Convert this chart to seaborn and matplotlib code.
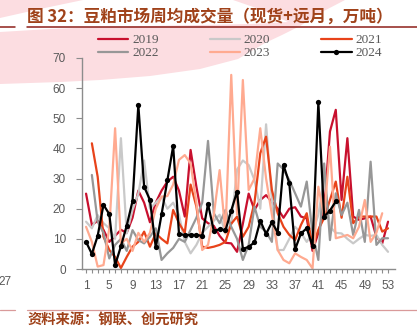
import numpy as np
import pandas as pd
import matplotlib
matplotlib.use("Agg")
import matplotlib.pyplot as plt
from matplotlib.patches import Polygon
from matplotlib.lines import Line2D
import seaborn as sns

# Weekly average traded volume of soybean meal (spot + forward), 10k tonnes
weeks = list(range(1, 54))
nan = np.nan

vol_2019 = [25, 14.6, 16, 13, 9, 11, 13, 12, 17, 26, 22, 15.5, 22, 26, 29, 30.6, 26, 17.4,
            39.5, 27.3, 16.8, 15.2, 14.3, 11, 8.7, 8.5, 5.7, 15, 25, 19.6, 22.9, 24.5, 22.3,
            20, 17, 20, 20.5, 17.4, 16.8, 6, 12, 20, 45.6, 52.8, 22.9, 43.4, 17.4, 16.3, 16.8,
            17.4, 10.7, 8.5, 15.7]
vol_2020 = [15.7, 13.5, 17.9, 15.2, 13.5, 10, 43.4, 11.8, 19.6, 25, 36, 20, 22, 24, 20, 22,
            18, 9, 5.2, 8, 12, 14, 16, 18, 12, 15, 33, 36, 34.5, 29.5, 20, 48, 22.9, 6.3, 6.3,
            10, 14, 12, 9, 12, 18, 30, 14, 12, 11.8, 10, 8.5, 10, 11.3, 11, 11.3, 8, 5.7]
vol_2021 = [nan, 41.7, 30.6, 10.7, 6.3, 4, 0.3, 4, 7.4, 9, 12.4, 7.4, 11.8, 10, 8.5, 19.6,
            15.2, 12, 28, 20.7, 7.4, 7, 7.4, 8, 9, 15, 17.4, 10.7, 14, 22, 38.4, 43.9, 26.2,
            18.5, 14, 11.3, 9.6, 14.6, 18.5, 7.4, 13, 17, 22.9, 29, 17, 30.6, 15.2, 17.4, 17.4,
            17.4, 17.4, 12.4, 13.5]
vol_2022 = [nan, 31.2, 15.7, 12, 3.5, 8, 10, 6, 12.9, 9.6, 8.5, 10.7, 13.5, 3, 5.2, 7, 10, 9,
            13, 17, 22, 42.5, 18.5, 15.2, 19.6, 14, 10, 3, 8, 20.7, 14, 12.4, 9, 35, 33, 29.5,
            25.1, 20.7, 29, 11.8, 3, 35, 9.6, 25.1, 17.9, 22, 11.3, 19.6, 9, 35.6, 8, 10.2, 10.2]
vol_2023 = [14, 9, 0.8, 1.3, 13.5, 46.7, 8.5, 10, 6, 12, 9, 12, 20, 24, 24.2, 28, 36.2, 37.8,
            35, 22, 6.3, 8, 18, 32.8, 11.8, 64.4, 18, 62.7, 26.2, 30, 46.7, 30, 18, 6.3, 3, 1.9,
            5.2, 4, 3, 0.2, 27.3, 17.4, 40.6, 10.2, 10.7, 11.3, 10.2, 14, 22.9, 9, 12, 18.5, nan]
vol_2024 = [9, 5, 11, 21.3, 18.2, 1.3, 7.5, 14.4, 22.5, 54.4, 27.3, 22.9, 7.2, 18.1, 29.4,
            40.8, 11.7, 11.2, 11.3, 11.3, 11, 21.6, 12.6, 13.2, 12.8, 19.4, 25.7, 6.6, 7.4,
            8.8, 16, 11.6, 15.5, 12.1, 34.5, 28.4, 6.5, 11.8, 13.5, 7.6, 55.3, 17.4, 19.4, 22.4]
vol_2024 = vol_2024 + [nan] * (len(weeks) - len(vol_2024))

years = ["2019", "2020", "2021", "2022", "2023", "2024"]
series = [vol_2019, vol_2020, vol_2021, vol_2022, vol_2023, vol_2024]
colors = {"2019": "#C8102E", "2020": "#C9C9C9", "2021": "#E8431A",
          "2022": "#979797", "2023": "#FFAA90", "2024": "#000000"}

x_ticks = list(range(1, 54, 4))
y_ticks = list(range(0, 71, 10))

df = pd.DataFrame({
    "week": weeks * len(years),
    "year": np.repeat(years, len(weeks)),
    "volume": np.concatenate(series),
}).dropna()

sns.set_style("white")
plt.rcParams["font.family"] = ["Liberation Sans", "Noto Sans CJK SC", "DejaVu Sans"]

W, H = 417, 330
fig = plt.figure(figsize=(W / 100, H / 100), dpi=100)


def fp(x, y):
    return (x / W, 1 - y / H)


# page decoration: pink arc with a white sweep across the header
pink = "#FCDDE1"
outer = [(0, 0), (345, 0), (320, 13), (300, 26), (282, 35), (265, 43), (250, 52),
         (238, 59), (200, 69), (150, 76), (100, 80), (60, 82), (0, 84)]
band = [(0, 18), (40, 9), (83, 0), (233, 0), (262, 10), (288, 22), (250, 24),
        (200, 25), (150, 26), (100, 27), (50, 29), (0, 32)]
fig.patches.append(Polygon([fp(*p) for p in outer], closed=True, transform=fig.transFigure,
                           facecolor=pink, edgecolor="none", zorder=-10))
fig.patches.append(Polygon([fp(*p) for p in band], closed=True, transform=fig.transFigure,
                           facecolor="white", edgecolor="none", zorder=-9))

# header / footer rules
for x0, x1 in [(0, 15), (27, 417)]:
    fig.add_artist(Line2D([x0 / W, x1 / W], [1 - 27 / H] * 2, transform=fig.transFigure,
                          color="#8E1F1A", lw=1.1))
    fig.add_artist(Line2D([x0 / W, x1 / W], [1 - 310 / H] * 2, transform=fig.transFigure,
                          color="#D99A9A", lw=0.9))

fig.text(27 / W, 1 - 17 / H, "图 32：豆粕市场周均成交量（现货+远月，万吨）",
         family=["Noto Sans CJK SC", "DejaVu Sans"], weight="bold", size=12,
         color="#A0421A", va="center", ha="left")
fig.text(27 / W, 1 - 320 / H, "资料来源：钢联、创元研究",
         family=["Noto Sans CJK SC", "DejaVu Sans"], weight="bold", size=10.3,
         color="#A0421A", va="center", ha="left")
fig.text(12 / W, 1 - 282 / H, "27", ha="right", va="center", color="#595959", size=8.5)

ax = fig.add_axes([82 / W, 61 / H, 313 / W, 211 / H])
ax.set_zorder(2)
ax.patch.set_alpha(0)

for yr in years:
    sub = df[df["year"] == yr]
    kw = dict(marker="o", markersize=3.8, markeredgewidth=0) if yr == "2024" else {}
    sns.lineplot(data=sub, x="week", y="volume", ax=ax, color=colors[yr], lw=1.6,
                 legend=False, errorbar=None, sort=False, **kw)

ax.set_xlim(0.3, 54.2)
ax.set_ylim(0, 70)
ax.set_xticks(x_ticks)
ax.set_xticks(weeks, minor=True)
ax.set_yticks(y_ticks)
ax.set_xlabel("")
ax.set_ylabel("")
ax.tick_params(axis="x", which="both", bottom=True, direction="out", length=3,
               width=0.8, color="#8C8C8C", labelsize=8.5, labelcolor="#595959", pad=5)
ax.tick_params(axis="y", left=True, direction="out", length=4.5, width=0.8,
               color="#8C8C8C", labelsize=8.5, labelcolor="#595959", pad=7)
for s in ["top", "right"]:
    ax.spines[s].set_visible(False)
for s in ["left", "bottom"]:
    ax.spines[s].set_color("#8C8C8C")
    ax.spines[s].set_linewidth(1.0)

# legend laid out row-wise: 2019 2020 2021 / 2022 2023 2024
order = ["2019", "2022", "2020", "2023", "2021", "2024"]
handles = []
for yr in order:
    if yr == "2024":
        handles.append(Line2D([], [], color=colors[yr], lw=1.6, marker="o",
                              markersize=3.8, markeredgewidth=0))
    else:
        handles.append(Line2D([], [], color=colors[yr], lw=1.6))
leg = fig.legend(handles, order, ncol=3, loc="upper left", bbox_to_anchor=(98 / W, 1 - 34 / H),
                 frameon=False, prop={"family": "Liberation Serif", "size": 9.5},
                 labelcolor="#595959", handlelength=2.3, handletextpad=0.3,
                 columnspacing=3.85, labelspacing=0.05, borderpad=0, borderaxespad=0)
leg.set_zorder(3)

fig.savefig("out.png", dpi=100)
